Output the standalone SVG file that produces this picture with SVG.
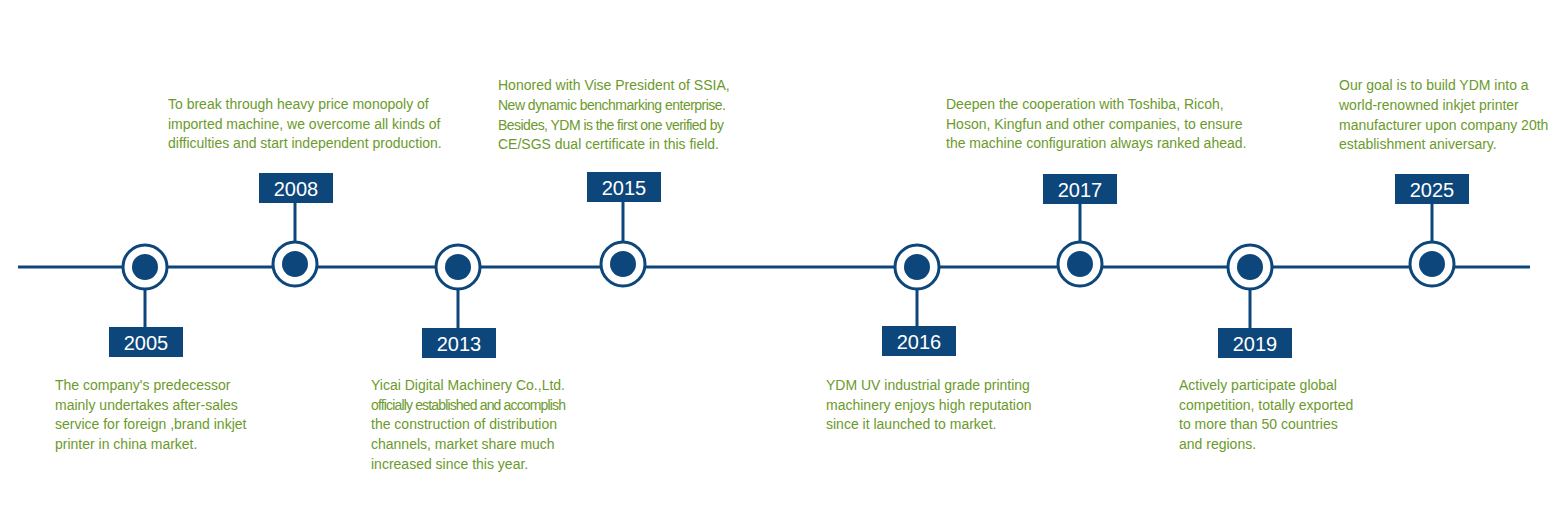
<svg xmlns="http://www.w3.org/2000/svg" width="1555" height="506" viewBox="0 0 1555 506">
<style>
.ln{stroke:#0d467b;stroke-width:3;fill:none}
.ring{fill:#fff;stroke:#0d467b;stroke-width:3}
.dot{fill:#0d467b}
.box{fill:#0d467b}
.yr{font-family:"Liberation Sans",Arial,sans-serif;font-size:20px;fill:#fff;text-anchor:middle}
.t{font-family:"Liberation Sans",Arial,sans-serif;font-size:14px;fill:#6b9a2b}
</style>
<rect width="1555" height="506" fill="#fff"/>
<g id="connectors">
<line class="ln" x1="18" y1="267" x2="1530" y2="267" stroke-width="4"/>
<line class="ln" x1="145" y1="267" x2="145" y2="328"/>
<line class="ln" x1="295" y1="200" x2="295" y2="267"/>
<line class="ln" x1="458" y1="267" x2="458" y2="329"/>
<line class="ln" x1="623" y1="200" x2="623" y2="267"/>
<line class="ln" x1="917" y1="267" x2="917" y2="327"/>
<line class="ln" x1="1080" y1="202" x2="1080" y2="267"/>
<line class="ln" x1="1250" y1="267" x2="1250" y2="329"/>
<line class="ln" x1="1432" y1="202" x2="1432" y2="267"/>
</g>
<g id="n2005"><circle class="ring" cx="145" cy="267" r="22"/><circle class="dot" cx="145" cy="267" r="13"/>
<rect class="box" x="109" y="327" width="74" height="30"/><text class="yr" x="146" y="350">2005</text>
<text class="t" x="55" y="390">The company's predecessor</text><text class="t" x="55" y="410">mainly undertakes after-sales</text><text class="t" x="55" y="429">service for foreign ,brand inkjet</text><text class="t" x="55" y="449">printer in china market.</text></g>
<g id="n2008"><circle class="ring" cx="295" cy="264" r="22"/><circle class="dot" cx="295" cy="264" r="13"/>
<rect class="box" x="259" y="173" width="74" height="30"/><text class="yr" x="296" y="196">2008</text>
<text class="t" x="168" y="109">To break through heavy price monopoly of</text><text class="t" x="168" y="129">imported machine, we overcome all kinds of</text><text class="t" x="168" y="148">difficulties and start independent production.</text></g>
<g id="n2013"><circle class="ring" cx="458" cy="267" r="22"/><circle class="dot" cx="458" cy="267" r="13"/>
<rect class="box" x="422" y="328" width="74" height="30"/><text class="yr" x="459" y="351">2013</text>
<text class="t" x="371" y="390">Yicai Digital Machinery Co.,Ltd.</text><text class="t" x="371" y="410" textLength="195">officially established and accomplish</text><text class="t" x="371" y="429">the construction of distribution</text><text class="t" x="371" y="449">channels, market share much</text><text class="t" x="371" y="469">increased since this year.</text></g>
<g id="n2015"><circle class="ring" cx="623" cy="264" r="22"/><circle class="dot" cx="623" cy="264" r="13"/>
<rect class="box" x="587" y="172" width="74" height="30"/><text class="yr" x="624" y="195">2015</text>
<text class="t" x="498" y="90">Honored with Vise President of SSIA,</text><text class="t" x="498" y="110" textLength="228">New dynamic benchmarking enterprise.</text><text class="t" x="498" y="130" textLength="226">Besides, YDM is the first one verified by</text><text class="t" x="498" y="149">CE/SGS dual certificate in this field.</text></g>
<g id="n2016"><circle class="ring" cx="917" cy="267" r="22"/><circle class="dot" cx="917" cy="267" r="13"/>
<rect class="box" x="882" y="326" width="74" height="30"/><text class="yr" x="919" y="349">2016</text>
<text class="t" x="826" y="390">YDM UV industrial grade printing</text><text class="t" x="826" y="410">machinery enjoys high reputation</text><text class="t" x="826" y="429">since it launched to market.</text></g>
<g id="n2017"><circle class="ring" cx="1080" cy="264" r="22"/><circle class="dot" cx="1080" cy="264" r="13"/>
<rect class="box" x="1043" y="174" width="74" height="30"/><text class="yr" x="1080" y="197">2017</text>
<text class="t" x="946" y="109">Deepen the cooperation with Toshiba, Ricoh,</text><text class="t" x="946" y="129">Hoson, Kingfun and other companies, to ensure</text><text class="t" x="946" y="148">the machine configuration always ranked ahead.</text></g>
<g id="n2019"><circle class="ring" cx="1250" cy="267" r="22"/><circle class="dot" cx="1250" cy="267" r="13"/>
<rect class="box" x="1218" y="328" width="74" height="30"/><text class="yr" x="1255" y="351">2019</text>
<text class="t" x="1179" y="390">Actively participate global</text><text class="t" x="1179" y="410">competition, totally exported</text><text class="t" x="1179" y="429">to more than 50 countries</text><text class="t" x="1179" y="449">and regions.</text></g>
<g id="n2025"><circle class="ring" cx="1432" cy="264" r="22"/><circle class="dot" cx="1432" cy="264" r="13"/>
<rect class="box" x="1395" y="174" width="74" height="30"/><text class="yr" x="1432" y="197">2025</text>
<text class="t" x="1339" y="90">Our goal is to build YDM into a</text><text class="t" x="1339" y="110">world-renowned inkjet printer</text><text class="t" x="1339" y="130">manufacturer upon company 20th</text><text class="t" x="1339" y="149">establishment aniversary.</text></g>
</svg>
